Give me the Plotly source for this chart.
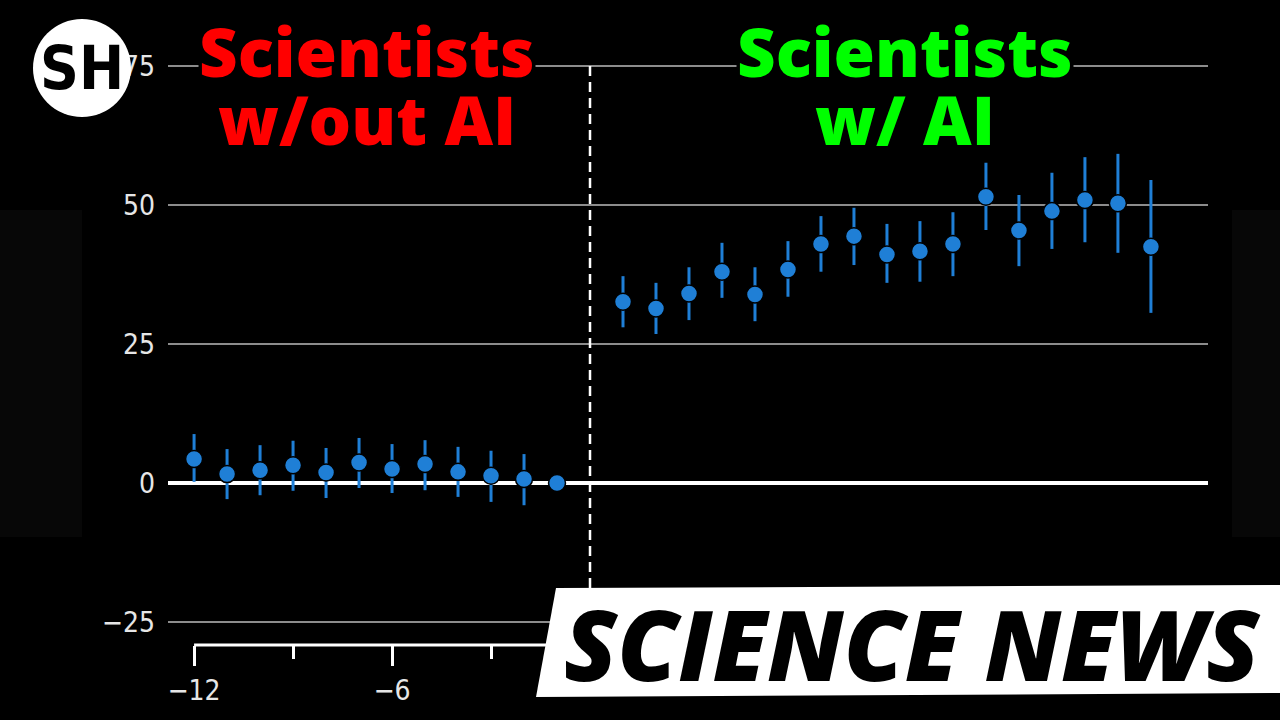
import plotly.graph_objects as go

# months relative to adoption, estimate and confidence interval bounds
months = list(range(-12, 0)) + list(range(1, 18))
estimate = [4.3, 1.6, 2.3, 3.2, 1.9, 3.7, 2.5, 3.4, 2.0, 1.3, 0.7, 0.0,
            32.6, 31.4, 34.1, 38.0, 33.9, 38.4, 43.0, 44.4, 41.1, 41.7, 43.0,
            51.5, 45.4, 48.9, 50.9, 50.3, 42.5]
ci_high = [8.8, 6.1, 6.8, 7.6, 6.3, 8.1, 7.0, 7.7, 6.5, 5.8, 5.2, 0.0,
           37.2, 36.0, 38.8, 43.2, 38.8, 43.5, 48.0, 49.5, 46.6, 47.1, 48.7,
           57.6, 51.8, 55.8, 58.6, 59.2, 54.5]
ci_low = [0.2, -2.9, -2.2, -1.4, -2.7, -0.9, -1.8, -1.3, -2.5, -3.4, -4.0, 0.0,
          28.0, 26.8, 29.3, 33.3, 29.1, 33.5, 38.0, 39.2, 36.0, 36.2, 37.2,
          45.5, 39.0, 42.1, 43.3, 41.4, 30.6]

y_ticks = [-25, 0, 25, 50, 75]
x_ticks = [-12, -6, 0, 6, 12, 18]
x_ticktext = ["−12", "−6", "", "", "", ""]  # the rest sit behind the banner
x_minor = [-9, -3, 3, 9, 15]

BLUE = "#1f7fd6"
NARROW = "Liberation Sans Narrow, DejaVu Sans Condensed, Roboto Condensed, Liberation Sans"
W, H = 1280, 720
L, R, T, B = 168, 72, 60, 75


def px(x, y):
    # pixel position -> paper coords for decoration shapes
    return (x - L) / (W - L - R), (H - B - y) / (H - T - B)


fig = go.Figure()

fig.add_trace(go.Scatter(
    x=months,
    y=estimate,
    mode="markers",
    marker=dict(size=17, color=BLUE, line=dict(color="black", width=1.5)),
    error_y=dict(
        type="data",
        symmetric=False,
        array=[h - e for h, e in zip(ci_high, estimate)],
        arrayminus=[e - l for e, l in zip(estimate, ci_low)],
        color=BLUE,
        thickness=3,
        width=0,
    ),
    hoverinfo="skip",
    showlegend=False,
))

fig.update_layout(
    width=W,
    height=H,
    paper_bgcolor="black",
    plot_bgcolor="black",
    margin=dict(l=L, r=R, t=T, b=B),
)

fig.update_yaxes(
    range=[-29.14, 76.08],
    tickvals=y_ticks,
    showgrid=True,
    gridcolor="#8c8c8c",
    gridwidth=1.5,
    zeroline=True,
    zerolinecolor="white",
    zerolinewidth=4,
    showline=False,
    ticks="",
    ticklabelstandoff=12,
    tickfont=dict(family=NARROW, size=28, color="#e6e6e6"),
)

fig.update_xaxes(
    range=[-12.79, 18.73],
    tickvals=x_ticks,
    ticktext=x_ticktext,
    showgrid=False,
    zeroline=False,
    showline=False,
    ticks="outside",
    ticklen=20,
    tickwidth=3,
    tickcolor="white",
    minor=dict(tickvals=x_minor, ticks="outside", ticklen=13, tickwidth=3, tickcolor="white"),
    tickfont=dict(family=NARROW, size=28, color="#e6e6e6"),
)

# faint side panels
for x0, x1 in [(0, 82), (1232, 1280)]:
    a0, b0 = px(x0, 537)
    a1, b1 = px(x1, 210)
    fig.add_shape(type="rect", xref="paper", yref="paper", x0=a0, x1=a1, y0=b0, y1=b1,
                  fillcolor="#070707", line_width=0, layer="below")

# x axis spine starting at -12
fig.add_shape(type="line", xref="x", yref="paper", x0=-12, x1=18.73, y0=0, y1=0,
              line=dict(color="white", width=3))

# divider at adoption
fig.add_shape(type="line", xref="x", yref="y", x0=0, x1=0, y0=75, y1=-29,
              line=dict(color="white", width=2.5, dash="10px,6px"))

# SCIENCE NEWS banner
pts = [px(556, 588), px(1280, 585), px(1280, 693), px(536, 697)]
path = "M " + " L ".join(f"{a},{b}" for a, b in pts) + " Z"
fig.add_shape(type="path", xref="paper", yref="paper", path=path,
              fillcolor="white", line_width=0)

# logo circle
c0 = px(33, 117)
c1 = px(131, 19)
fig.add_shape(type="circle", xref="paper", yref="paper", x0=c0[0], x1=c1[0], y0=c0[1], y1=c1[1],
              fillcolor="white", line_width=0)

title_font = dict(family="Open Sans", size=67, weight=800)
texts = [
    ("Scientists", 367, 51, "#ff0000", True),
    ("w/out AI", 367, 119, "#ff0000", False),
    ("Scientists", 905, 51, "#00ff00", True),
    ("w/ AI", 905, 119, "#00ff00", False),
]
for txt, x, y, col, box in texts:
    a, b = px(x, y)
    fig.add_annotation(
        text=txt, xref="paper", yref="paper", x=a, y=b,
        xanchor="center", yanchor="middle", showarrow=False,
        font=dict(color=col, **title_font),
        bgcolor="black" if box else "rgba(0,0,0,0)",
        borderpad=0,
        height=62,
    )

a, b = px(912, 643)
fig.add_annotation(
    text="SCIENCE NEWS", xref="paper", yref="paper", x=a, y=b,
    xanchor="center", yanchor="middle", showarrow=False,
    font=dict(family="Open Sans", size=97, weight=800, style="italic", color="black"),
)

a, b = px(82, 68)
fig.add_annotation(
    text="SH", xref="paper", yref="paper", x=a, y=b,
    xanchor="center", yanchor="middle", showarrow=False,
    font=dict(family=NARROW, size=60, weight="bold", color="black"),
)

fig.write_html("out.html", config={"displayModeBar": False},
               post_script="document.body.style.margin='0';")
